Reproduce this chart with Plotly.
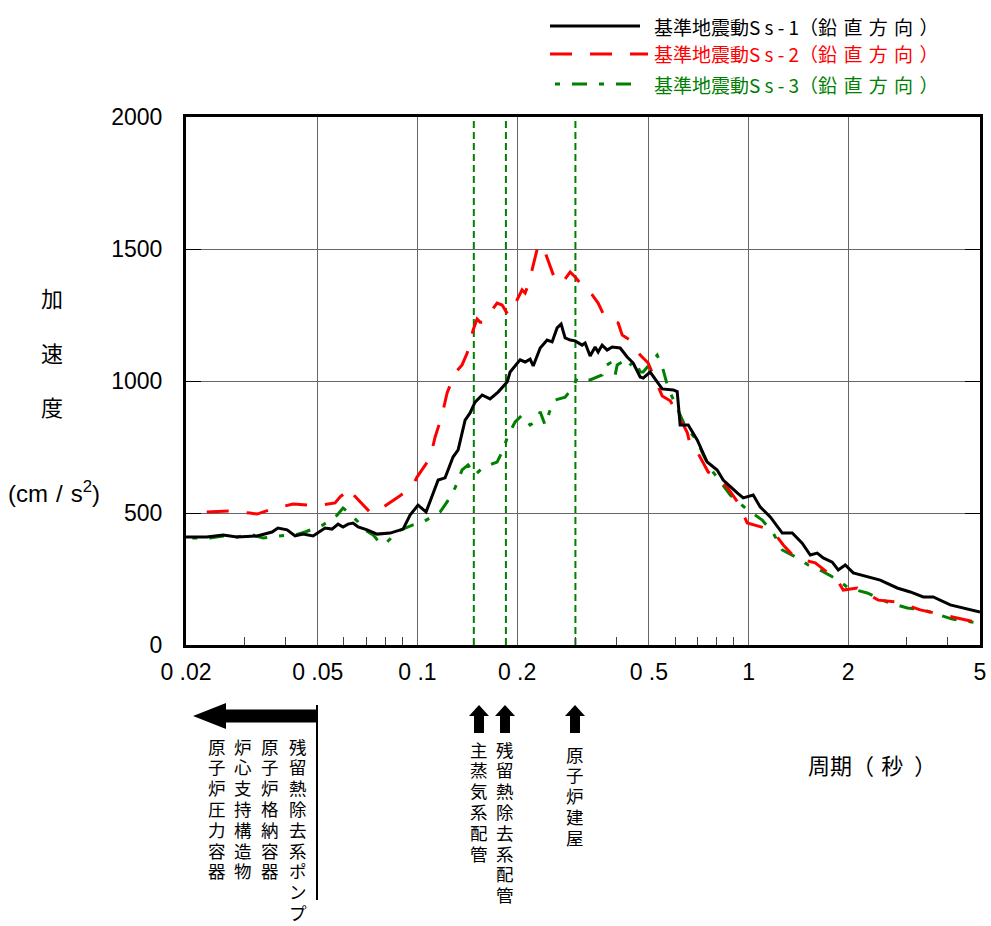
import numpy as np
import plotly.graph_objects as go

# ---------------- data ----------------
ss1_period = [0.020, 0.0231, 0.0259, 0.0285, 0.0328, 0.0351, 0.0364, 0.0379, 0.0404, 0.0427,
              0.0451, 0.0484, 0.0508, 0.0526, 0.0552, 0.0576, 0.0596, 0.0617, 0.0639, 0.0662,
              0.0705, 0.0755, 0.0827, 0.0905, 0.0950, 0.1004, 0.1062, 0.1155, 0.1212, 0.1281,
              0.1327, 0.1393, 0.1442, 0.1493, 0.1568, 0.1657, 0.1752, 0.1866, 0.1905, 0.2042,
              0.2115, 0.2189, 0.2237, 0.2348, 0.2464, 0.2551, 0.2641, 0.2716, 0.2793, 0.2892,
              0.2994, 0.3143, 0.3210, 0.3323, 0.3440, 0.3513, 0.3612, 0.3740, 0.3873, 0.4095,
              0.4300, 0.4483, 0.4706, 0.4806, 0.5044, 0.5297, 0.5485, 0.5922, 0.6088, 0.6215,
              0.6573, 0.6997, 0.7499, 0.8039, 0.8383, 0.9242, 0.9635, 1.033, 1.084, 1.163,
              1.264, 1.355, 1.452, 1.536, 1.612, 1.681, 1.789, 1.866, 1.959, 2.071,
              2.282, 2.498, 2.812, 3.079, 3.370, 3.612, 4.066, 4.577, 5.0]
ss1_accel = [409, 409, 417, 409, 413, 424, 428, 443, 436, 413,
             420, 413, 432, 443, 439, 458, 447, 458, 462, 447,
             436, 420, 424, 439, 492, 530, 504, 625, 633, 712,
             739, 852, 879, 920, 947, 932, 958, 996, 1034, 1080,
             1072, 1083, 1057, 1125, 1155, 1148, 1201, 1216, 1163, 1155,
             1152, 1136, 1144, 1095, 1129, 1110, 1136, 1117, 1129, 1125,
             1091, 1068, 1015, 1011, 1034, 996, 970, 966, 960, 833,
             833, 777, 693, 663, 625, 576, 557, 568, 523, 485,
             424, 424, 386, 341, 348, 330, 314, 284, 303, 273,
             258, 246, 216, 201, 182, 182, 152, 136, 125]

ss2_period = [0.0231, 0.0272, 0.0312, 0.0328, 0.0364, 0.0421, 0.0497, 0.0564, 0.0584, 0.0605,
              0.0613, 0.0680, 0.0709, 0.0735, 0.0782, 0.0886, 0.0970, 0.0997, 0.1092, 0.1131,
              0.1187, 0.1229, 0.1299, 0.1364, 0.1413, 0.1473, 0.1514, 0.1546, 0.1579, 0.1740,
              0.1802, 0.1879, 0.1945, 0.2070, 0.2115, 0.2174, 0.2268, 0.2315, 0.2397, 0.2551,
              0.2605, 0.2735, 0.2892, 0.2994, 0.3100, 0.3210, 0.3513, 0.3689, 0.4039, 0.4152,
              0.4391, 0.4706, 0.4976, 0.5151, 0.5485, 0.5799, 0.6088, 0.6528, 0.6665, 0.6900,
              0.7552, 0.8096, 0.8620, 0.9306, 0.9908, 1.123, 1.221, 1.273, 1.383, 1.590,
              1.853, 1.932, 2.129, 2.464, 2.812, 3.300, 3.873, 4.515, 5.0]
ss2_accel = [504, 508, 500, 496, 515, 534, 527, 538, 561, 576,
             595, 538, 511, 530, 519, 565, 606, 636, 708, 788,
             871, 955, 1030, 1061, 1106, 1193, 1235, 1223, 1223, 1295,
             1288, 1250, 1277, 1345, 1333, 1375, 1470, 1515, 1508, 1420,
             1383, 1371, 1413, 1394, 1371, 1364, 1295, 1239, 1220, 1174,
             1155, 1098, 1068, 1023, 943, 925, 879, 805, 758, 746,
             655, 633, 598, 538, 462, 443, 409, 379, 330, 311,
             246, 208, 216, 170, 163, 133, 114, 95, 83]

ss3_period = [0.0209, 0.0236, 0.0259, 0.0285, 0.0312, 0.0342, 0.0379, 0.0427, 0.0458, 0.0519,
              0.0572, 0.0596, 0.0617, 0.0662, 0.0680, 0.0735, 0.0771, 0.0799, 0.0874, 0.0970,
              0.1040, 0.1171, 0.1229, 0.1299, 0.1364, 0.1422, 0.1493, 0.1579, 0.1740, 0.1814,
              0.1879, 0.1973, 0.2070, 0.2189, 0.2268, 0.2348, 0.2430, 0.2516, 0.2605, 0.2793,
              0.2953, 0.3036, 0.3323, 0.3612, 0.3637, 0.3820, 0.3955, 0.4011, 0.4152, 0.4300,
              0.4545, 0.4706, 0.4806, 0.5297, 0.5523, 0.5680, 0.5922, 0.6130, 0.6436, 0.6997,
              0.7297, 0.7659, 0.8210, 0.8802, 0.9770, 1.100, 1.187, 1.264, 1.403, 1.514,
              1.669, 1.866, 2.000, 2.282, 2.624, 3.015, 3.370, 4.124, 5.0]
ss3_accel = [405, 405, 413, 409, 420, 405, 413, 417, 428, 455,
             492, 519, 504, 466, 443, 417, 386, 383, 432, 455,
             466, 504, 542, 595, 663, 682, 644, 674, 693, 739,
             795, 845, 871, 833, 845, 883, 833, 890, 928, 939,
             977, 1011, 1004, 1023, 1053, 1068, 1023, 1061, 1072, 1049,
             1080, 1034, 1034, 1098, 1042, 985, 930, 890, 829, 773,
             720, 670, 620, 568, 519, 473, 424, 360, 330, 303,
             280, 246, 216, 197, 163, 140, 133, 98, 83]

facility_periods = [0.148, 0.185, 0.30]

x_tickvals = [0.02, 0.05, 0.1, 0.2, 0.5, 1, 2, 5]
x_ticktext = ["0 .02", "0 .05", "0 .1", "0 .2", "0 .5", "1", "2", "5"]
x_minor = [0.03, 0.04, 0.06, 0.07, 0.08, 0.09, 0.3, 0.4, 0.6, 0.7, 0.8, 0.9, 3, 4]
y_tickvals = [0, 500, 1000, 1500, 2000]

series_names = ["基準地震動Ss-1（鉛直方向）", "基準地震動Ss-2（鉛直方向）", "基準地震動Ss-3（鉛直方向）"]
SP = "\u2004"
legend_texts = ["基準地震動S s - " + n + "（" + SP.join("鉛直方向") + SP + "）" for n in ["1", "2", "3"]]

left_labels = ["原子炉圧力容器", "炉心支持構造物", "原子炉格納容器", "残留熱除去系ポンプ"]
up_labels = ["主蒸気系配管", "残留熱除去系配管", "原子炉建屋"]

# ---------------- styling ----------------
W, H = 991, 926
L, R, T, B = 186, 980, 117, 645
GREEN = "#008000"
RED = "#FF0000"
FONT = "Liberation Sans, Noto Sans CJK JP, sans-serif"
CJK = "Noto Sans CJK JP, sans-serif"
RED_DASH = "22px,18px"
GREEN_DASH = "5px,12px,15px,12px"
PITCH = 20.8


def xp(px):
    return (px - L) / (R - L)


def yp(py):
    return (B - py) / (B - T)


fig = go.Figure()

for p in facility_periods:
    fig.add_trace(go.Scatter(x=[p, p], y=[0, 2000], mode="lines",
                             line=dict(color=GREEN, width=2, dash="7px,4px"),
                             showlegend=False, hoverinfo="skip"))

fig.add_trace(go.Scatter(x=ss3_period, y=ss3_accel, mode="lines", name=series_names[2],
                         line=dict(color=GREEN, width=3, dash=GREEN_DASH), showlegend=False))
fig.add_trace(go.Scatter(x=ss2_period, y=ss2_accel, mode="lines", name=series_names[1],
                         line=dict(color=RED, width=3, dash=RED_DASH), showlegend=False))
fig.add_trace(go.Scatter(x=ss1_period, y=ss1_accel, mode="lines", name=series_names[0],
                         line=dict(color="black", width=3), showlegend=False))

shapes = []
annotations = []

# manual legend
leg_y = [26, 54, 84]
leg_colors = ["black", RED, GREEN]
leg_dash = ["solid", RED_DASH, GREEN_DASH]
leg_x0 = [550, 550, 555]
leg_x1 = [640, 648, 632]
for i in range(3):
    shapes.append(dict(type="line", xref="paper", yref="paper",
                       x0=xp(leg_x0[i]), x1=xp(leg_x1[i]), y0=yp(leg_y[i]), y1=yp(leg_y[i]),
                       line=dict(color=leg_colors[i], width=3, dash=leg_dash[i])))
    annotations.append(dict(xref="paper", yref="paper", x=xp(652), y=yp(leg_y[i]),
                            xanchor="left", yanchor="middle", showarrow=False,
                            text=legend_texts[i],
                            font=dict(family=CJK, size=19, color=leg_colors[i])))

# y-axis title (vertical characters)
for ch, yy in zip(["加", "速", "度"], [297, 352, 406]):
    annotations.append(dict(xref="paper", yref="paper", x=xp(52), y=yp(yy),
                            xanchor="center", yanchor="middle", showarrow=False, text=ch,
                            font=dict(family=CJK, size=22, color="black")))
annotations.append(dict(xref="paper", yref="paper", x=xp(54), y=yp(492),
                        xanchor="center", yanchor="middle", showarrow=False,
                        text="(cm" + SP + "/" + SP + "s<sup>2</sup>)",
                        font=dict(family=FONT, size=24, color="black")))

# x-axis title
annotations.append(dict(xref="paper", yref="paper", x=xp(806), y=yp(764),
                        xanchor="left", yanchor="middle", showarrow=False,
                        text="周期（" + SP + "秒" + "\u2002" + "）",
                        font=dict(family=CJK, size=22, color="black")))

# left arrow + line
shapes.append(dict(type="path", xref="paper", yref="paper", fillcolor="black",
                   line=dict(color="black", width=0),
                   path="M {a},{b} L {c},{d} L {c},{e} L {f},{e} L {f},{g} L {c},{g} L {c},{h} Z".format(
                       a=xp(193), b=yp(716), c=xp(226), d=yp(703), e=yp(709.5),
                       f=xp(318), g=yp(722.5), h=yp(729))))
shapes.append(dict(type="line", xref="paper", yref="paper", x0=xp(317), x1=xp(317),
                   y0=yp(705), y1=yp(900), line=dict(color="black", width=2)))


def vertical_text(txt, cx, y_first):
    for k, ch in enumerate(txt):
        annotations.append(dict(xref="paper", yref="paper", x=xp(cx), y=yp(y_first + k * PITCH),
                                xanchor="center", yanchor="middle", showarrow=False, text=ch,
                                borderpad=0,
                                font=dict(family=CJK, size=17.5, color="black")))


left_cols = [217, 243, 270, 298]
for txt, cx in zip(left_labels, left_cols):
    vertical_text(txt, cx, 746)

# up arrows + labels
up_cols = [479, 505, 575]
up_first = [749, 749, 754]
for txt, cx, y0 in zip(up_labels, up_cols, up_first):
    shapes.append(dict(type="path", xref="paper", yref="paper", fillcolor="black",
                       line=dict(color="black", width=0),
                       path="M {a},{b} L {c},{d} L {e},{d} L {e},{f} L {g},{f} L {g},{d} L {h},{d} Z".format(
                           a=xp(cx), b=yp(705), c=xp(cx + 10), d=yp(716), e=xp(cx + 5),
                           f=yp(733), g=xp(cx - 5), h=xp(cx - 10))))
    vertical_text(txt, cx, y0)

fig.update_layout(
    width=W, height=H,
    margin=dict(l=L, r=W - R, t=T, b=H - B, pad=0, autoexpand=False),
    paper_bgcolor="white", plot_bgcolor="white",
    showlegend=False,
    shapes=shapes, annotations=annotations,
    font=dict(family=FONT, color="black"),
)

fig.update_xaxes(
    type="log", range=[np.log10(0.02), np.log10(5)], automargin=False,
    tickmode="array", tickvals=x_tickvals, ticktext=x_ticktext,
    tickfont=dict(family=FONT, size=23, color="black"),
    ticks="", showgrid=True, gridcolor="#666666", gridwidth=1,
    showline=True, linecolor="black", linewidth=3, mirror=True,
    zeroline=False, ticklabelstandoff=4,
    minor=dict(tickmode="array", tickvals=x_minor, ticks="inside", ticklen=8,
               tickcolor="#444444", tickwidth=1, showgrid=False),
)
fig.update_yaxes(
    range=[0, 2000], tickmode="array", tickvals=y_tickvals, automargin=False,
    tickfont=dict(family=FONT, size=23, color="black"),
    ticks="inside", ticklen=15, tickcolor="black", tickwidth=1,
    showgrid=True, gridcolor="#666666", gridwidth=1,
    showline=True, linecolor="black", linewidth=3, mirror="allticks",
    zeroline=False, ticklabelstandoff=16,
)

fig.write_html("out.html")
